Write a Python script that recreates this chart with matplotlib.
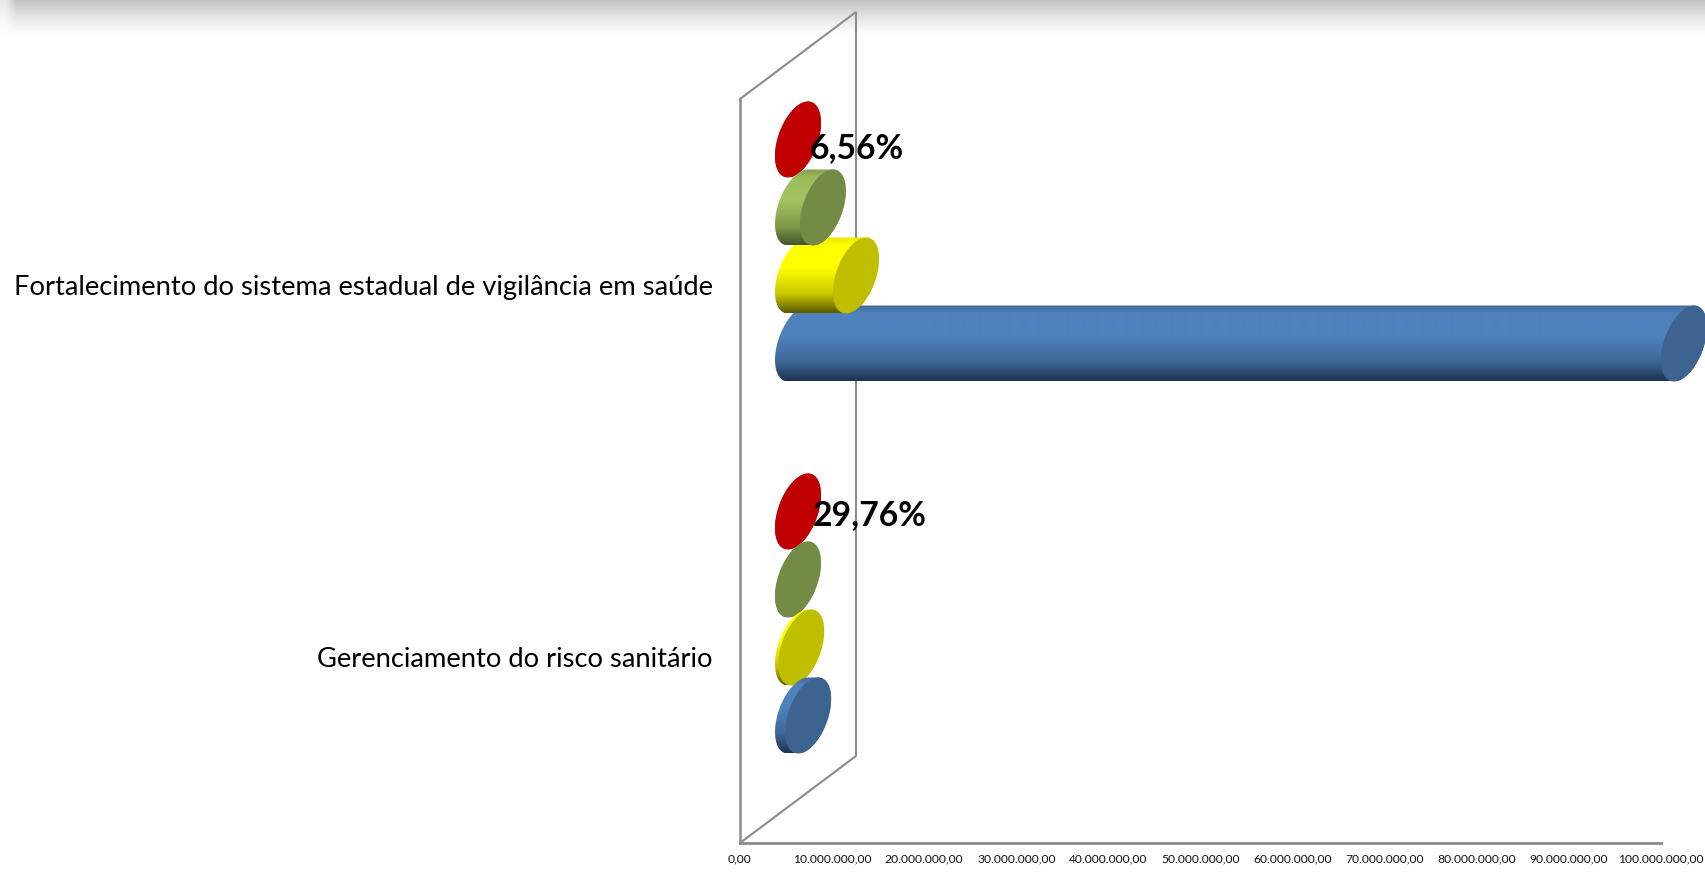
import numpy as np
import matplotlib
matplotlib.use("Agg")
import matplotlib.pyplot as plt
from matplotlib.patches import Polygon
from matplotlib.transforms import IdentityTransform
from matplotlib.colors import to_rgb

categories = ["Gerenciamento do risco sanitário",
              "Fortalecimento do sistema estadual de vigilância em saúde"]
# values, index follows categories
blue_values = [1100000, 96200000]
yellow_values = [350000, 6300000]
green_values = [0, 2700000]
red_values = [0, 0]
red_labels = ["29,76%", "6,56%"]
x_ticks = [i * 10000000 for i in range(11)]
x_tick_labels = ["0,00", "10.000.000,00", "20.000.000,00", "30.000.000,00",
                 "40.000.000,00", "50.000.000,00", "60.000.000,00", "70.000.000,00",
                 "80.000.000,00", "90.000.000,00", "100.000.000,00"]

W, H = 1705, 872
LINE = "#8c8c8c"
# 3D look of the old excel chart, all in pixels
DEPTH_X, DEPTH_Y = 116, 87
HALF_H, TILT, HALF_A = 38, 10, 20.7
BAR_STEP = 68 / 372

# top colour, middle colours, bottom colour of the barrel + colour of the end cap
styles = {
    "blue": (["#456b9b", "#4f81bd", "#4f81bd", "#3f6797", "#1f3350"], "#3d6491"),
    "yellow": (["#e8e800", "#ffff00", "#ffff00", "#c8c800", "#5c5c00"], "#bfbf00"),
    "green": (["#84a04e", "#9bbb59", "#a6c363", "#7f9b49", "#45552a"], "#748b45"),
    "red": (["#c00000", "#c00000", "#c00000", "#c00000", "#c00000"], "#c00000"),
}
series = {"blue": blue_values, "yellow": yellow_values, "green": green_values, "red": red_values}
offsets = {"blue": -1.5, "yellow": -0.5, "green": 0.5, "red": 1.5}
# excel does not stack them the same way in both groups
draw_order = [["red", "green", "yellow", "blue"], ["red", "blue", "yellow", "green"]]


def ellipsePoints(cx, cy, t):
    return np.column_stack([cx + HALF_A * np.cos(t) + TILT * np.sin(t), cy + HALF_H * np.sin(t)])


def drawBar(ax, x0, x1, cy, name, z):
    stops, capColor = styles[name]
    left = ellipsePoints(x0, cy, np.linspace(np.pi / 2, 3 * np.pi / 2, 60))
    right = ellipsePoints(x1, cy, np.linspace(3 * np.pi / 2, 5 * np.pi / 2, 60))
    body = Polygon(np.vstack([left, right]), closed=True, transform=IdentityTransform(),
                   facecolor="none", edgecolor="none")
    ax.add_patch(body)
    body.set_clip_on(False)

    rows = np.interp(np.linspace(0, 1, 76), [0, 0.1, 0.4, 0.75, 1],
                     [0, 1, 2, 3, 4])
    rgb = np.array([to_rgb(c) for c in stops])
    grad = np.column_stack([np.interp(rows, range(5), rgb[:, i]) for i in range(3)]).reshape(76, 1, 3)
    im = ax.imshow(grad, extent=(x0 - 30, x1 + 30, cy - HALF_H, cy + HALF_H), aspect="auto",
                   transform=IdentityTransform(), interpolation="bilinear", zorder=z)
    im.set_clip_box(ax.figure.bbox)
    im.set_clip_path(body)

    cap = Polygon(ellipsePoints(x1, cy, np.linspace(0, 2 * np.pi, 120)), closed=True,
                  transform=IdentityTransform(), facecolor=capColor, edgecolor="none",
                  clip_on=False, zorder=z + 0.5)
    ax.add_patch(cap)


fig = plt.figure(figsize=(W / 100, H / 100), dpi=100)
plt.rcParams["font.family"] = ["Lato", "DejaVu Sans"]
ax = fig.add_axes([740 / W, (H - 843) / H, 921 / W, 744 / H])
ax.set_xlim(0, 100000000)
ax.set_ylim(-0.5, 1.5)
ax.set_autoscale_on(False)
ax.patch.set_visible(False)

for s in ["top", "right"]:
    ax.spines[s].set_visible(False)
ax.spines["left"].set_color(LINE)
ax.spines["left"].set_linewidth(1.8)
ax.spines["bottom"].set_color(LINE)
ax.spines["bottom"].set_linewidth(2.0)

ax.set_xticks(x_ticks)
ax.set_xticklabels(x_tick_labels, fontsize=8.7, color="#111111")
ax.set_yticks([0, 1])
ax.set_yticklabels(categories, fontsize=19.7, color="black", va="center_baseline")
ax.tick_params(axis="x", length=0, pad=7.5)
ax.tick_params(axis="y", length=0, pad=19.6)

# side wall going back from the y axis
wall = np.array([[0, 1.5], [0, -0.5]])
wallPx = ax.transData.transform(wall)
ax.plot([wallPx[0, 0], wallPx[0, 0] + DEPTH_X, wallPx[1, 0] + DEPTH_X, wallPx[1, 0]],
        [wallPx[0, 1], wallPx[0, 1] + DEPTH_Y, wallPx[1, 1] + DEPTH_Y, wallPx[1, 1]],
        color=LINE, lw=1.5, transform=IdentityTransform(), clip_on=False,
        solid_joinstyle="miter", zorder=-1)

# top shadow of the slide
fy = np.linspace(0, 1, 38)[:, None]
fx = np.clip(np.linspace(0, 1, W) * W / 16, 0.35, 1)[None, :]
shade = 1 - 0.24 * (1 - fy) ** 1.4 * fx
ax.imshow(np.dstack([shade, shade, shade]), extent=(0, W, H - 38, H), aspect="auto",
          transform=IdentityTransform(), interpolation="bilinear", zorder=-2).set_clip_box(fig.bbox)

z = 1
for i in range(len(categories)):
    for name in draw_order[i]:
        y = i + offsets[name] * BAR_STEP
        x0, cy = ax.transData.transform((0, y))
        x1, _ = ax.transData.transform((series[name][i], y))
        drawBar(ax, x0 + DEPTH_X / 2, x1 + DEPTH_X / 2, cy + DEPTH_Y / 2, name, z)
        z += 1

label_shift = [(15, -4), (12, -9)]
for i in range(len(categories)):
    y = i + offsets["red"] * BAR_STEP
    x0, cy = ax.transData.transform((red_values[i], y))
    ax.text(x0 + DEPTH_X / 2 + label_shift[i][0], cy + DEPTH_Y / 2 + label_shift[i][1], red_labels[i],
            transform=IdentityTransform(), fontsize=24.3, fontweight="bold", color="black",
            va="center", ha="left", clip_on=False, zorder=20)

fig.savefig("out.png", dpi=100)
